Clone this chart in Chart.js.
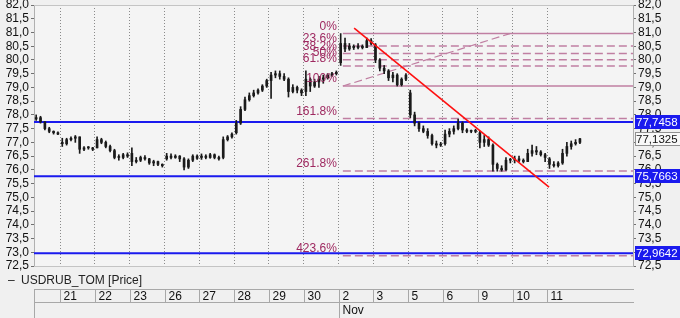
<!DOCTYPE html>
<html>
<head>
<meta charset="utf-8">
<script src="https://cdn.jsdelivr.net/npm/chart.js@4/dist/chart.umd.min.js"></script>
<style>
  html, body { margin: 0; padding: 0; background: #f0f0f0; }
  #wrap { width: 680px; height: 318px; position: relative; }
</style>
</head>
<body>
<div id="wrap"><canvas id="c" width="680" height="318"></canvas></div>
<script>
// ---------- DATA ----------
const seriesName = 'USDRUB_TOM [Price]';
const dayLabels = ['21','22','23','26','27','28','29','30','2','3','5','6','9','10','11'];
const monthLabels = [{ dayIndex: 8, text: 'Nov' }];
const barsPerDay = 8;
const leadingBars = 6; // partial day 20

const opens = [
  77.85,77.9,77.75,77.5,77.4,77.35,
  77.0,76.95,77.1,77.15,77.2,76.75,76.8,76.8,
  76.8,77.1,77.0,76.85,76.7,76.45,76.45,76.55,
  76.6,76.3,76.35,76.45,76.4,76.25,76.3,76.2,
  76.4,76.5,76.45,76.5,76.4,76.1,76.35,76.5,
  76.45,76.5,76.45,76.55,76.45,76.45,77.1,77.2,
  77.35,77.7,78.2,78.55,78.7,78.8,78.9,79.05,
  79.25,79.45,79.5,79.4,79.3,78.85,79.0,78.9,
  78.85,79.3,79.05,79.2,79.3,79.35,79.45,79.5,
  79.9,80.6,80.4,80.5,80.45,80.5,80.45,80.7,
  80.55,80.0,79.7,79.6,79.35,79.45,79.1,79.3,
  78.8,78.0,77.7,77.5,77.4,77.25,76.95,76.9,
  76.95,77.3,77.4,77.5,77.7,77.45,77.4,77.4,
  77.35,77.0,77.1,76.9,76.2,76.05,76.0,76.35,
  76.35,76.4,76.35,76.3,76.6,76.7,76.65,76.55,
  76.4,76.2,76.15,76.25,76.6,76.85,76.95,77.0
];
const highs = [
  78.0,77.95,77.75,77.55,77.42,77.38,
  77.15,77.15,77.2,77.25,77.2,76.85,76.85,76.82,
  77.2,77.15,77.05,76.9,76.75,76.55,76.6,76.62,
  76.8,76.45,76.5,76.52,76.42,76.35,76.32,76.22,
  76.6,76.58,76.55,76.52,76.45,76.4,76.55,76.55,
  76.58,76.55,76.6,76.58,76.5,77.2,77.25,77.35,
  77.8,78.3,78.65,78.8,78.9,78.95,79.1,79.3,
  79.55,79.6,79.6,79.5,79.35,79.1,79.05,78.95,
  79.6,79.35,79.3,79.4,79.45,79.5,79.55,79.6,
  80.96,80.8,80.6,80.55,80.6,80.55,80.8,80.78,
  80.6,80.05,79.8,79.65,79.55,79.5,79.35,79.5,
  78.9,78.1,77.75,77.6,77.5,77.3,77.05,77.0,
  77.45,77.5,77.6,77.85,77.75,77.5,77.45,77.48,
  77.4,77.25,77.2,76.95,76.25,76.15,76.45,76.42,
  76.5,76.5,76.4,76.75,76.9,76.85,76.7,76.6,
  76.45,76.3,76.3,76.75,77.0,77.05,77.1,77.15
];
const lows = [
  77.8,77.7,77.45,77.35,77.3,77.28,
  76.85,76.9,77.05,77.0,76.6,76.7,76.75,76.7,
  76.8,76.95,76.8,76.65,76.4,76.35,76.4,76.45,
  76.15,76.25,76.3,76.35,76.2,76.15,76.15,76.1,
  76.35,76.4,76.42,76.3,76.0,76.05,76.3,76.38,
  76.38,76.4,76.42,76.4,76.35,76.4,77.05,77.15,
  77.3,77.65,78.15,78.5,78.65,78.75,78.85,79.0,
  78.6,79.35,79.3,79.25,78.65,78.8,78.8,78.7,
  78.7,78.85,79.0,79.0,79.15,79.3,79.4,79.45,
  79.8,80.3,80.35,80.38,80.4,80.4,80.45,80.55,
  79.9,79.6,79.5,79.25,79.2,79.05,79.05,79.25,
  77.9,77.6,77.4,77.35,77.15,76.9,76.8,76.85,
  76.9,77.2,77.3,77.45,77.35,77.35,77.35,77.35,
  76.8,76.85,76.85,75.95,75.95,75.95,75.98,76.25,
  76.25,76.3,76.25,76.3,76.5,76.55,76.5,76.3,
  76.05,76.1,76.1,76.2,76.5,76.75,76.9,76.95
];
const closes = [
  77.9,77.75,77.5,77.4,77.35,77.3,
  76.95,77.1,77.15,77.2,76.75,76.8,76.8,76.75,
  77.1,77.0,76.85,76.7,76.45,76.45,76.55,76.5,
  76.3,76.35,76.45,76.4,76.25,76.3,76.2,76.15,
  76.5,76.45,76.5,76.4,76.1,76.35,76.5,76.42,
  76.5,76.45,76.55,76.45,76.4,77.1,77.2,77.3,
  77.7,78.2,78.55,78.7,78.8,78.9,79.05,79.25,
  79.45,79.5,79.4,79.3,78.85,79.0,78.9,78.8,
  79.3,79.05,79.2,79.3,79.35,79.45,79.5,79.55,
  80.6,80.4,80.5,80.45,80.5,80.45,80.7,80.6,
  80.0,79.7,79.6,79.35,79.45,79.1,79.3,79.45,
  78.0,77.7,77.5,77.4,77.25,76.95,76.9,76.92,
  77.3,77.4,77.5,77.7,77.45,77.4,77.4,77.42,
  77.0,77.1,76.9,76.2,76.05,76.0,76.35,76.35,
  76.4,76.35,76.3,76.6,76.7,76.65,76.55,76.45,
  76.2,76.15,76.25,76.6,76.85,76.95,77.0,77.13
];

const yMin = 72.5, yMax = 82.0, yStep = 0.5;
const lastPrice = 77.1325;
const supportLevels = [77.7458, 75.7663, 72.9642];
const fibHigh = 80.96, fibLow = 79.05;
const fibRatios = [0, 23.6, 38.2, 50, 61.8, 100, 161.8, 261.8, 423.6];
const fibSolid = [0, 100];
const fibStartX = 65;              // bar units (start of Nov 2)
const fanLine = [{ x: 65, y: 79.05 }, { x: 103.4, y: 80.96 }];
const redTrend = [{ x: 67.6, y: 81.16 }, { x: 112.4, y: 75.37 }];
const xMin = -6, xMax = 131.7;

// ---------- BUILD ----------
const xOf = i => i - leadingBars + 0.5;
const wickData = highs.map((h, i) => ({ x: xOf(i), y: [lows[i], h] }));
const bodyData = opens.map((o, i) => ({ x: xOf(i), y: [Math.min(o, closes[i]), Math.max(o, closes[i])] }));
const fibLevels = fibRatios.map(r => fibHigh - (fibHigh - fibLow) * r / 100);
const fmt = v => v.toFixed(1).replace('.', ',');
const fmt4 = v => v.toFixed(4).replace('.', ',');

const FIB_LINE = '#c07fa2';
const FIB_TEXT = '#9e2960';
const BLUE = '#1a1aee';
const FONT = '"Liberation Sans", Arial, sans-serif';

const datasets = [];
datasets.push({ type: 'line', data: redTrend, borderColor: '#ff1010', borderWidth: 1.6, pointRadius: 0, order: 0 });
datasets.push({ type: 'bar', data: bodyData, backgroundColor: '#1a1a1a', barThickness: 2, minBarLength: 1, grouped: false, order: 1 });
datasets.push({ type: 'bar', data: wickData, backgroundColor: '#1a1a1a', barThickness: 1, grouped: false, order: 2 });
supportLevels.forEach(v => datasets.push({
  type: 'line', data: [{ x: xMin, y: v }, { x: xMax, y: v }],
  borderColor: BLUE, borderWidth: 2, pointRadius: 0, order: 3
}));
fibLevels.forEach((v, k) => datasets.push({
  type: 'line', data: [{ x: fibStartX, y: v }, { x: xMax, y: v }],
  borderColor: FIB_LINE, borderWidth: 1.5, pointRadius: 0, order: 4,
  borderDash: fibSolid.includes(fibRatios[k]) ? [] : [8, 4]
}));
datasets.push({ type: 'line', data: fanLine, borderColor: FIB_LINE, borderWidth: 1.2, pointRadius: 0, borderDash: [8, 4], order: 4 });

Chart.defaults.font.family = FONT;
Chart.defaults.font.size = 12;
Chart.defaults.color = '#111';

const decor = {
  id: 'decor',
  beforeDraw(chart) {
    const { ctx, chartArea: a } = chart;
    ctx.save();
    ctx.fillStyle = '#f0f0f0';
    ctx.fillRect(0, 0, chart.width, chart.height);
    ctx.fillStyle = '#f4f4f4';
    ctx.fillRect(a.left, a.top, a.right - a.left, a.bottom - a.top);
    ctx.restore();
  },
  afterDraw(chart) {
    const { ctx, chartArea: a, scales } = chart;
    const xs = scales.x, ys = scales.y;
    ctx.save();
    ctx.strokeStyle = '#c4c4c4';
    ctx.lineWidth = 1;
    ctx.beginPath();
    ctx.moveTo(a.left, a.top + 0.5); ctx.lineTo(a.right, a.top + 0.5);
    ctx.moveTo(a.left, a.bottom + 0.5); ctx.lineTo(a.right, a.bottom + 0.5);
    ctx.stroke();

    // fib labels
    ctx.font = '12px ' + FONT;
    ctx.fillStyle = FIB_TEXT;
    ctx.textAlign = 'right';
    ctx.textBaseline = 'middle';
    const lx = xs.getPixelForValue(fibStartX) - 6;
    fibLevels.forEach((v, k) => {
      const r = fibRatios[k];
      const t = (Number.isInteger(r) ? r.toFixed(0) : r.toFixed(1)) + '%';
      ctx.fillText(t, lx, ys.getPixelForValue(v) - 7);
    });

    // right value boxes
    ctx.font = '11.5px ' + FONT;
    ctx.textAlign = 'left';
    const bx = a.right + 2;
    supportLevels.forEach(v => {
      const y = Math.round(ys.getPixelForValue(v));
      ctx.fillStyle = BLUE;
      ctx.fillRect(bx, y - 7, chart.width - bx, 14);
      ctx.fillStyle = '#fff';
      ctx.fillText(fmt4(v), bx + 1, y + 0.5);
    });
    {
      const y = Math.round(ys.getPixelForValue(lastPrice));
      ctx.fillStyle = '#f8f8f8';
      ctx.fillRect(bx, y - 7, chart.width - bx, 14);
      ctx.strokeStyle = '#909090';
      ctx.strokeRect(bx + 0.5, y - 6.5, chart.width - bx, 13);
      ctx.fillStyle = '#111';
      ctx.fillText(fmt4(lastPrice), bx + 1, y + 0.5);
    }

    // legend
    ctx.fillStyle = '#222';
    ctx.font = '12px ' + FONT;
    ctx.textBaseline = 'middle';
    ctx.fillText('\u2013', 8, 281);
    ctx.fillText(seriesName, 21, 281);

    // date table
    const tTop = 289, tMid = 302, tBot = 318;
    const tRight = a.right + 1;
    ctx.strokeStyle = '#a8a8a8';
    ctx.lineWidth = 1;
    ctx.beginPath();
    ctx.moveTo(a.left, tTop + 0.5); ctx.lineTo(tRight, tTop + 0.5);
    ctx.moveTo(a.left, tMid + 0.5); ctx.lineTo(tRight, tMid + 0.5);
    ctx.moveTo(a.left + 0.5, tTop); ctx.lineTo(a.left + 0.5, tBot);
    ctx.stroke();
    ctx.fillStyle = '#111';
    ctx.textAlign = 'left';
    dayLabels.forEach((d, k) => {
      const px = Math.round(xs.getPixelForValue(k * barsPerDay)) + 0.5;
      ctx.beginPath();
      ctx.moveTo(px, tTop); ctx.lineTo(px, tMid);
      ctx.stroke();
      ctx.fillText(d, px + 3, (tTop + tMid) / 2 + 1);
    });
    monthLabels.forEach(m => {
      const px = Math.round(xs.getPixelForValue(m.dayIndex * barsPerDay)) + 0.5;
      ctx.beginPath();
      ctx.moveTo(px, tMid); ctx.lineTo(px, tBot);
      ctx.stroke();
      ctx.fillText(m.text, px + 3, (tMid + tBot) / 2 + 1);
    });
    ctx.restore();
  }
};

const yTicks = {
  stepSize: yStep, padding: 2, color: '#111', autoSkip: false,
  font: { size: 12 },
  callback: v => fmt(v)
};
const fitY = w => s => { s.width = w; s.paddingTop = 0; s.paddingBottom = 0; };

new Chart(document.getElementById('c'), {
  type: 'bar',
  data: { datasets },
  options: {
    responsive: false,
    animation: false,
    devicePixelRatio: 1,
    layout: { padding: { top: 5, bottom: 52, left: 0, right: 0 } },
    plugins: { legend: { display: false }, tooltip: { enabled: false } },
    scales: {
      x: {
        type: 'linear', min: xMin, max: xMax, offset: false,
        afterBuildTicks: s => { s.ticks = dayLabels.map((d, k) => ({ value: k * barsPerDay })); },
        ticks: { display: false },
        grid: { offset: false, drawTicks: false, color: '#8a8a8a', lineWidth: 1 },
        border: { display: false, dash: [1, 2] }
      },
      y: {
        type: 'linear', position: 'left', min: yMin, max: yMax,
        ticks: yTicks,
        afterFit: fitY(34),
        grid: { drawOnChartArea: false, tickLength: 3, color: '#707070' },
        border: { display: true, color: '#b0b0b0' }
      },
      y2: {
        type: 'linear', position: 'right', min: yMin, max: yMax,
        ticks: yTicks,
        afterFit: fitY(47),
        grid: { drawOnChartArea: false, tickLength: 3, color: '#707070' },
        border: { display: true, color: '#b0b0b0' }
      }
    }
  },
  plugins: [decor]
});
</script>
</body>
</html>
